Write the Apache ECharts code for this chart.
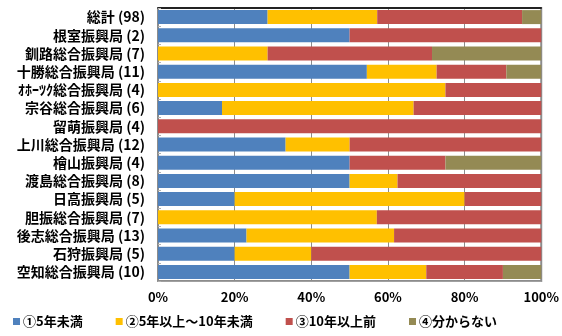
<!DOCTYPE html>
<html>
<head>
<meta charset="utf-8">
<script src="https://cdn.jsdelivr.net/npm/echarts@6/dist/echarts.min.js"></script>
<style>
html, body { margin: 0; padding: 0; background: #fff; }
#chart { width: 562px; height: 336px; }
</style>
</head>
<body>
<div id="chart"></div>
<script>
// categories, top to bottom
var categories = ['総計 (98)', '根室振興局 (2)', '釧路総合振興局 (7)', '十勝総合振興局 (11)', 'ｵﾎｰﾂｸ総合振興局 (4)',
    '宗谷総合振興局 (6)', '留萌振興局 (4)', '上川総合振興局 (12)', '檜山振興局 (4)', '渡島総合振興局 (8)',
    '日高振興局 (5)', '胆振総合振興局 (7)', '後志総合振興局 (13)', '石狩振興局 (5)', '空知総合振興局 (10)'];

var seriesNames = ['①5年未満', '②5年以上～10年未満', '③10年以上前', '④分からない'];

// percentages per category
var under5 = [28.6, 50, 0, 54.5, 0, 16.7, 0, 33.3, 50, 50, 20, 0, 23.1, 20, 50];
var from5to10 = [28.6, 0, 28.6, 18.2, 75, 50, 0, 16.7, 0, 12.5, 60, 57.1, 38.5, 20, 20];
var over10 = [37.8, 50, 42.9, 18.2, 25, 33.3, 100, 50, 25, 37.5, 20, 42.9, 38.5, 60, 20];
var unknown = [5.1, 0, 28.6, 9.1, 0, 0, 0, 0, 25, 0, 0, 0, 0, 0, 10];

var xTicks = [0, 20, 40, 60, 80, 100];

var colors = ['#4F81BD', '#FFC000', '#C0504D', '#948A54'];
var values = [under5, from5to10, over10, unknown];

var chart = echarts.init(document.getElementById('chart'));

var series = [];
for (var i = 0; i < seriesNames.length; i++) {
    series.push({
        name: seriesNames[i],
        type: 'bar',
        stack: 'total',
        barWidth: 14,
        data: values[i],
        itemStyle: { color: colors[i] }
    });
}

var font = '"Noto Sans CJK JP", sans-serif';

var option = {
    animation: false,
    textStyle: { fontFamily: font },
    grid: {
        left: 158, right: 17, top: 8, bottom: 55,
        show: true, borderColor: '#8C8C8C', borderWidth: 2
    },
    legend: {
        bottom: 3,
        left: 8,
        itemWidth: 7,
        itemHeight: 7,
        itemGap: 33,
        icon: 'rect',
        textStyle: { fontFamily: font, fontSize: 13, fontWeight: 'bold', color: '#000', padding: [0, 0, 0, -2] },
        data: seriesNames
    },
    xAxis: [{
        type: 'value',
        min: xTicks[0],
        max: xTicks[xTicks.length - 1],
        interval: 20,
        axisLine: { show: true, lineStyle: { color: '#A0A0A0', width: 1 } },
        axisTick: { show: false },
        splitLine: { show: true, lineStyle: { color: '#8C8C8C', width: 1 } },
        axisLabel: {
            margin: 10,
            fontFamily: font,
            fontSize: 13,
            fontWeight: 'bold',
            color: '#000',
            formatter: function (v) { return v + '%'; }
        }
    }, {
        type: 'value',
        position: 'top',
        min: 0,
        max: 100,
        interval: 20,
        axisLine: { show: true, lineStyle: { color: '#000', width: 1.5 } },
        axisTick: { show: false },
        axisLabel: { show: false },
        splitLine: { show: false }
    }],
    yAxis: {
        type: 'category',
        inverse: true,
        data: categories,
        axisLine: { show: true, lineStyle: { color: '#8C8C8C', width: 2 } },
        axisTick: { show: true, inside: true, length: 3, lineStyle: { color: '#B0B0B0' } },
        axisLabel: {
            margin: 13,
            fontFamily: font,
            fontSize: 14,
            fontWeight: 'bold',
            color: '#000'
        }
    },
    series: series
};

chart.setOption(option);
</script>
</body>
</html>
